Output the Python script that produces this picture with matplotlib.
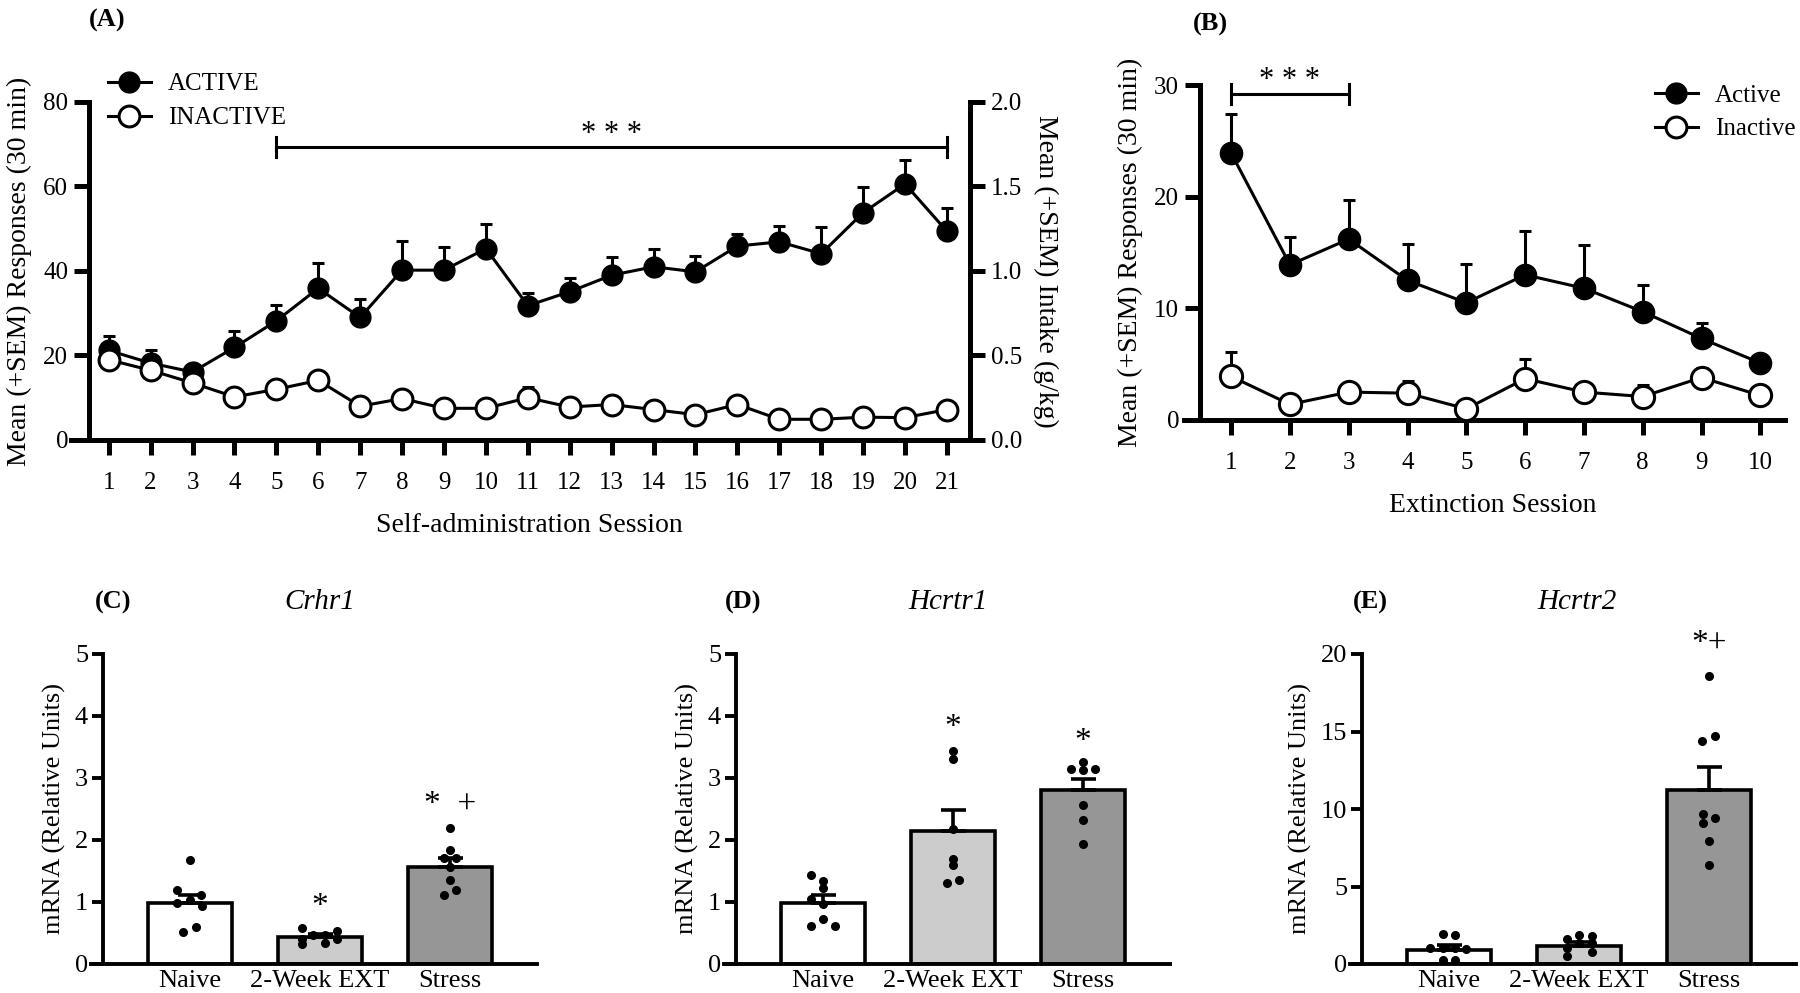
import matplotlib.pyplot as plt
from matplotlib.lines import Line2D
import numpy as np

plt.rcParams['font.family'] = ['Liberation Serif', 'DejaVu Serif']

# ---- Panel A: self-administration ----
sa_sessions = list(range(1, 22))
sa_active = [21.2, 18.2, 16.1, 21.9, 28.2, 35.9, 29.0, 40.2, 40.2, 45.3, 31.8,
             35.1, 39.0, 41.0, 39.8, 45.9, 46.9, 44.1, 53.8, 60.6, 49.4]
sa_active_sem = [3.5, 3.1, 1.0, 3.9, 3.8, 5.9, 4.4, 6.9, 5.5, 5.9, 2.9,
                 3.2, 4.3, 4.3, 3.7, 2.9, 3.7, 6.3, 6.0, 5.7, 5.6]
sa_inactive = [19.0, 16.5, 13.5, 10.2, 12.0, 14.1, 8.0, 9.8, 7.5, 7.5, 10.0,
               7.8, 8.4, 7.2, 6.0, 8.4, 4.9, 4.9, 5.4, 5.3, 7.2]
sa_inactive_sem = [1.0, 1.0, 1.0, 0.8, 1.0, 1.0, 0.8, 1.0, 0.8, 0.8, 2.5,
                   0.8, 1.0, 0.8, 0.8, 1.0, 0.8, 0.8, 0.8, 0.8, 1.0]

# ---- Panel B: extinction ----
ext_sessions = list(range(1, 11))
ext_active = [23.9, 13.9, 16.2, 12.5, 10.5, 13.0, 11.8, 9.7, 7.3, 5.1]
ext_active_sem = [3.5, 2.5, 3.5, 3.3, 3.5, 3.9, 3.9, 2.4, 1.4, 0.3]
ext_inactive = [3.9, 1.4, 2.5, 2.4, 1.0, 3.7, 2.5, 2.1, 3.8, 2.2]
ext_inactive_sem = [2.2, 0.3, 0.3, 1.1, 0.3, 1.8, 0.3, 1.0, 0.9, 0.3]

# ---- Panels C-E: mRNA ----
groups = ['Naive', '2-Week EXT', 'Stress']
bar_colors = ['white', '#cccccc', '#969696']

crhr1_mean = [0.99, 0.43, 1.56]
crhr1_sem = [0.13, 0.06, 0.15]
crhr1_points = [[1.68, 1.19, 1.11, 0.99, 1.03, 0.93, 0.59, 0.51],
                [0.58, 0.54, 0.47, 0.47, 0.41, 0.41, 0.32, 0.34],
                [2.20, 1.84, 1.71, 1.71, 1.57, 1.35, 1.20, 1.11]]
crhr1_jitter = [[0, -0.10, 0.085, -0.10, 0, 0.09, 0.045, -0.05],
                [-0.14, 0.13, -0.05, 0.04, -0.14, 0.13, -0.14, 0.04],
                [0, 0, -0.045, 0.045, 0, 0, 0.045, -0.045]]
crhr1_sig = ['', '*', '*  +']
crhr1_sig_y = [0, 0.92, 2.57]

hcrtr1_mean = [0.98, 2.14, 2.80]
hcrtr1_sem = [0.13, 0.34, 0.18]
hcrtr1_points = [[1.43, 1.34, 1.23, 1.05, 0.96, 0.72, 0.61, 0.62],
                 [3.44, 3.31, 2.17, 1.70, 1.59, 1.35, 1.30],
                 [3.26, 3.14, 3.13, 3.14, 2.57, 2.33, 1.94]]
hcrtr1_jitter = [[-0.09, 0, 0, -0.09, 0, 0, -0.09, 0.09],
                 [0, 0, 0, 0, 0, 0.045, -0.045],
                 [0, -0.09, 0, 0.095, 0, 0, 0]]
hcrtr1_sig = ['', '*', '*']
hcrtr1_sig_y = [0, 3.81, 3.59]

hcrtr2_mean = [0.91, 1.19, 11.21]
hcrtr2_sem = [0.33, 0.26, 1.52]
hcrtr2_points = [[1.95, 1.89, 1.02, 1.02, 1.02, 0.95, 0.26, 0.26],
                 [1.60, 1.84, 1.78, 1.06, 1.34, 1.34, 0.52, 0.80],
                 [18.55, 14.69, 14.36, 9.70, 9.44, 9.09, 7.96, 6.38]]
hcrtr2_jitter = [[-0.045, 0.045, -0.145, -0.045, 0.045, 0.135, -0.045, 0.045],
                 [-0.09, 0, 0.1, -0.09, 0, 0.1, -0.09, 0.1],
                 [0, 0.045, -0.05, -0.045, 0.045, -0.045, 0, 0]]
hcrtr2_sig = ['', '', '*+']
hcrtr2_sig_y = [0, 0, 20.7]

W, H = 1800, 993
fig = plt.figure(figsize=(W / 100, H / 100), dpi=100)


def px_axes(left, top, right, bottom):
    return fig.add_axes([left / W, 1 - bottom / H, (right - left) / W, (bottom - top) / H])


def style_line_axes(ax, spine_w=3.6):
    for s in ['top', 'right']:
        ax.spines[s].set_visible(False)
    for s in ['left', 'bottom']:
        ax.spines[s].set_linewidth(spine_w)
    ax.tick_params(axis='both', width=spine_w, length=11, labelsize=18, pad=4)
    ax.tick_params(axis='x', pad=12)


def plot_sessions(ax, x, act, act_sem, inact, inact_sem, ms):
    z = np.zeros(len(x))
    ax.errorbar(x, act, yerr=[z, act_sem], fmt='-o', color='black', mfc='black',
                mec='black', ms=ms, lw=2.2, elinewidth=2.2, capsize=4.5, capthick=2.2,
                zorder=3, clip_on=False)
    ax.errorbar(x, inact, yerr=[z, inact_sem], fmt='-o', color='black', mfc='white',
                mec='black', mew=2.2, ms=ms, lw=2.2, elinewidth=2.2, capsize=4.5,
                capthick=2.2, zorder=4, clip_on=False)


def sig_bar(ax, x0, x1, y, h, label, ty):
    ax.plot([x0, x1], [y, y], color='black', lw=2.2, clip_on=False)
    for xe in (x0, x1):
        ax.plot([xe, xe], [y - h, y + h], color='black', lw=2.2, clip_on=False)
    ax.text((x0 + x1) / 2, ty, label, ha='center', va='center', fontsize=22,
            clip_on=False)


# Panel A
axA = px_axes(89, 102, 970, 440)
plot_sessions(axA, sa_sessions, sa_active, sa_active_sem, sa_inactive, sa_inactive_sem, 15)
axA.set_xlim(0.53, 21.55)
axA.set_ylim(0, 80)
axA.set_xticks(sa_sessions)
axA.set_yticks([0, 20, 40, 60, 80])
style_line_axes(axA)
axA.spines['bottom'].set_bounds(0.1, 21.55)
axA.set_xlabel('Self-administration Session', fontsize=20, labelpad=14)
axA.set_ylabel('Mean (+SEM) Responses (30 min)', fontsize=20, labelpad=8)
sig_bar(axA, 5, 21, 69.3, 2.4, '* * *', 72.3)
axA2 = axA.twinx()
axA2.set_ylim(0, 2.0)
axA2.set_yticks([0.0, 0.5, 1.0, 1.5, 2.0])
axA2.set_yticklabels(['0.0', '0.5', '1.0', '1.5', '2.0'])
for s in ['top', 'left', 'bottom']:
    axA2.spines[s].set_visible(False)
axA2.spines['right'].set_linewidth(3.6)
axA2.tick_params(axis='y', width=3.6, length=11, labelsize=18, pad=4)
axA2.set_ylabel('Mean (+SEM) Intake (g/kg)', fontsize=20, rotation=270, labelpad=26)

h_act = Line2D([], [], color='black', marker='o', ms=15, mfc='black', lw=2.2)
h_inact = Line2D([], [], color='black', marker='o', ms=15, mfc='white', mew=2.2, lw=2.2)
axA.legend([h_act, h_inact], ['ACTIVE', 'INACTIVE'], loc='upper left',
           bbox_to_anchor=(108 / W, 1 - 73 / H), bbox_transform=fig.transFigure,
           frameon=False, fontsize=18, handlelength=1.7, handletextpad=0.7,
           labelspacing=0.45, borderpad=0, borderaxespad=0)

# Panel B
axB = px_axes(1200, 85, 1785, 420)
plot_sessions(axB, ext_sessions, ext_active, ext_active_sem, ext_inactive, ext_inactive_sem, 16)
axB.set_xlim(0.47, 10.42)
axB.set_ylim(0, 30)
axB.set_xticks(ext_sessions)
axB.set_yticks([0, 10, 20, 30])
style_line_axes(axB)
axB.spines['bottom'].set_bounds(0.2, 10.42)
axB.set_xlabel('Extinction Session', fontsize=20, labelpad=14)
axB.set_ylabel('Mean (+SEM) Responses (30 min)', fontsize=20, labelpad=8)
sig_bar(axB, 1, 3, 29.2, 0.9, '* * *', 30.4)
axB.legend([h_act, h_inact], ['Active', 'Inactive'], loc='upper left',
           bbox_to_anchor=(1655 / W, 1 - 84 / H), bbox_transform=fig.transFigure,
           frameon=False, fontsize=18, handlelength=1.7, handletextpad=0.7,
           labelspacing=0.45, borderpad=0, borderaxespad=0)

fig.text(107 / W, 1 - 20 / H, '(A)', fontsize=19, fontweight='bold', ha='center', va='center')
fig.text(1210 / W, 1 - 24 / H, '(B)', fontsize=19, fontweight='bold', ha='center', va='center')


def bar_panel(left, means, sems, points, jitter, sig, sig_y, ymax, yticks,
              tag, gene, tag_x, gene_x):
    ax = px_axes(left, 654, left + 446, 964)
    xs = np.arange(len(groups))
    ax.bar(xs, means, width=0.65, color=bar_colors, edgecolor='black', linewidth=2.6,
           zorder=2)
    ax.errorbar(xs, means, yerr=[np.zeros(len(xs)), sems], fmt='none', ecolor='black',
                elinewidth=2.6, capsize=9, capthick=2.6, zorder=3)
    for i in range(len(groups)):
        ax.plot(xs[i] + np.array(jitter[i]), points[i], 'o', color='black', ms=5.5,
                zorder=4, clip_on=False)
        if sig[i]:
            ax.text(xs[i], sig_y[i], sig[i], ha='center', va='center', fontsize=24,
                    clip_on=False)
    ax.set_xlim(-0.76, 2.67)
    ax.set_ylim(0, ymax)
    ax.set_yticks(yticks)
    ax.set_xticks(xs)
    ax.set_xticklabels(groups)
    ax.spines['left'].set_position(('data', -0.665))
    for s in ['top', 'right']:
        ax.spines[s].set_visible(False)
    for s in ['left', 'bottom']:
        ax.spines[s].set_linewidth(2.8)
    ax.tick_params(axis='y', width=2.8, length=8, labelsize=19, pad=3)
    ax.tick_params(axis='x', length=0, labelsize=19, pad=4)
    ax.set_ylabel('mRNA (Relative Units)', fontsize=19, labelpad=6)
    fig.text(tag_x / W, 1 - 602 / H, tag, fontsize=19, fontweight='bold',
             ha='center', va='center')
    fig.text(gene_x / W, 1 - 602 / H, gene, fontsize=21, fontstyle='italic',
             ha='center', va='center')
    return ax


bar_panel(91, crhr1_mean, crhr1_sem, crhr1_points, crhr1_jitter, crhr1_sig,
          crhr1_sig_y, 5, [0, 1, 2, 3, 4, 5], '(C)', 'Crhr1', 113, 320)
bar_panel(724, hcrtr1_mean, hcrtr1_sem, hcrtr1_points, hcrtr1_jitter, hcrtr1_sig,
          hcrtr1_sig_y, 5, [0, 1, 2, 3, 4, 5], '(D)', 'Hcrtr1', 743, 948)
bar_panel(1350, hcrtr2_mean, hcrtr2_sem, hcrtr2_points, hcrtr2_jitter, hcrtr2_sig,
          hcrtr2_sig_y, 20, [0, 5, 10, 15, 20], '(E)', 'Hcrtr2', 1370, 1577)

fig.savefig('out.png', dpi=100)
